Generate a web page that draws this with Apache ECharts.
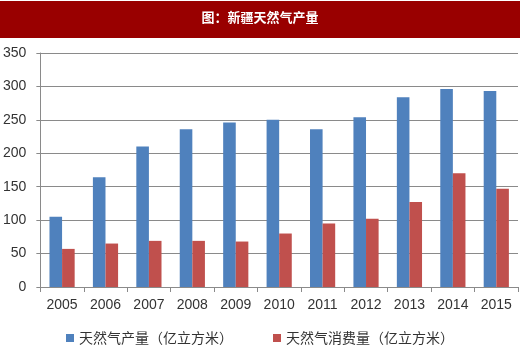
<!DOCTYPE html>
<html>
<head>
<meta charset="utf-8">
<script src="https://cdn.jsdelivr.net/npm/echarts@6/dist/echarts.min.js"></script>
<style>
  html, body { margin: 0; padding: 0; background: #fff; }
  #chart { width: 520px; height: 348px; }
</style>
</head>
<body>
<div id="chart"></div>
<script>
// 新疆天然气产量与消费量，2005–2015（亿立方米）
const years = ['2005', '2006', '2007', '2008', '2009', '2010', '2011', '2012', '2013', '2014', '2015'];
const production = [105, 164, 210, 236, 246, 250, 236, 254, 284, 296, 293];
const consumption = [57, 65, 69, 69, 68, 80, 95, 102, 127, 170, 147];
const seriesNames = ['天然气产量（亿立方米）', '天然气消费量（亿立方米）'];
const titleText = '图：新疆天然气产量';

const chart = echarts.init(document.getElementById('chart'), null, { renderer: 'canvas' });

const gridColor = '#8a8a8a';
const textColor = '#333333';
const latinFont = '"Liberation Sans", Arial, sans-serif';
const cjkFont = '"Noto Sans CJK SC", "Liberation Sans", sans-serif';

chart.setOption({
  animation: false,
  backgroundColor: '#ffffff',
  graphic: [
    {
      type: 'rect',
      left: 0,
      top: 1,
      shape: { width: 520, height: 37 },
      style: { fill: '#990000' },
      z: 0
    },
    {
      type: 'text',
      left: 'center',
      top: 11,
      style: {
        text: titleText,
        fill: '#ffffff',
        font: 'bold 13px ' + cjkFont
      },
      z: 1
    }
  ],
  grid: { left: 40, right: 2, top: 53, bottom: 61, containLabel: false },
  legend: {
    top: 329,
    left: 'center',
    itemWidth: 8,
    itemHeight: 8,
    itemGap: 40,
    padding: 0,
    icon: 'rect',
    textStyle: { color: textColor, fontSize: 14, fontFamily: cjkFont, lineHeight: 18 },
    data: seriesNames
  },
  xAxis: {
    type: 'category',
    data: years,
    boundaryGap: true,
    axisLine: { show: true, lineStyle: { color: gridColor, width: 1 } },
    axisTick: { show: true, alignWithLabel: false, length: 5, lineStyle: { color: gridColor } },
    axisLabel: { color: textColor, fontSize: 14, fontFamily: latinFont, margin: 11 }
  },
  yAxis: {
    type: 'value',
    min: 0,
    max: 350,
    interval: 50,
    axisLine: { show: true, lineStyle: { color: gridColor, width: 1 } },
    axisTick: { show: true, length: 4, lineStyle: { color: gridColor } },
    axisLabel: { color: textColor, fontSize: 14, fontFamily: latinFont, margin: 14 },
    splitLine: { show: true, lineStyle: { color: gridColor, width: 1 } }
  },
  series: [
    {
      name: seriesNames[0],
      type: 'bar',
      data: production,
      barGap: '0%',
      barCategoryGap: '42%',
      itemStyle: { color: '#4f81bd' }
    },
    {
      name: seriesNames[1],
      type: 'bar',
      data: consumption,
      itemStyle: { color: '#c0504d' }
    }
  ]
});
</script>
</body>
</html>
